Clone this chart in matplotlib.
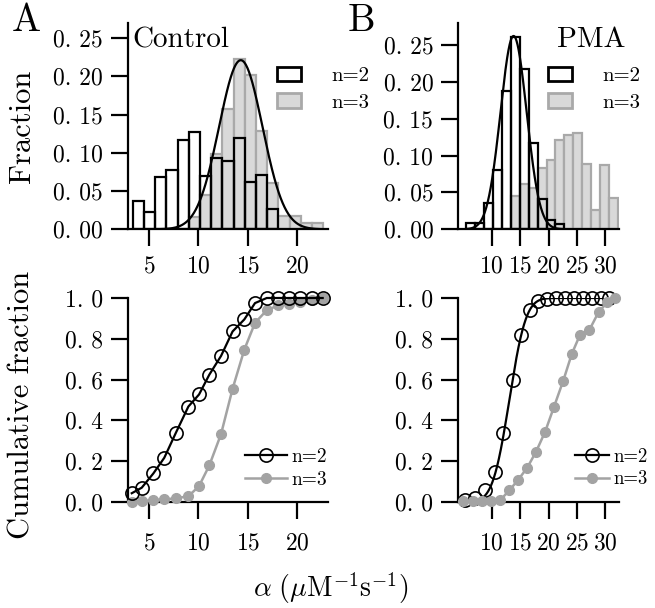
import math
import numpy as np
import matplotlib
matplotlib.use("Agg")
import matplotlib.pyplot as plt
from matplotlib.patches import Patch
from matplotlib.lines import Line2D

plt.rcParams['font.family'] = ['cmr10', 'DejaVu Serif']
plt.rcParams['mathtext.fontset'] = 'cm'
plt.rcParams['axes.formatter.use_mathtext'] = True

# ---------------- data ----------------
# Histograms (fraction per bin)
A_bin_start = 3.35
A_bin_width = 1.135
A_hist_n2 = [0.037, 0.022, 0.068, 0.077, 0.117, 0.127, 0.070, 0.093, 0.089,
             0.119, 0.062, 0.071, 0.027]
A_hist_n3 = [0, 0, 0, 0, 0, 0.016, 0.045, 0.099, 0.157, 0.223, 0.201, 0.129,
             0.060, 0.018, 0.018, 0.008, 0.008]
A_fit_mean, A_fit_sd, A_fit_amp = 14.3, 2.2, 0.221

B_bin_start = 5.48
B_bin_width = 1.574
B_hist_n2 = [0.008, 0.008, 0.036, 0.080, 0.187, 0.261, 0.217, 0.117, 0.041,
             0.012, 0.007]
B_hist_n3 = [0, 0, 0, 0, 0, 0.045, 0.062, 0.056, 0.083, 0.094, 0.121, 0.128,
             0.130, 0.088, 0.026, 0.087, 0.042]
B_fit_mean, B_fit_sd, B_fit_amp = 13.85, 2.3, 0.262

# Cumulative fractions
A_cdf_x = [3.25, 4.26, 5.44, 6.55, 7.71, 8.99, 10.07, 11.11, 12.3, 13.47,
           14.66, 15.74, 16.93, 18.1, 19.2, 20.3, 21.5, 22.6]
A_cdf_n2 = [0.043, 0.07, 0.14, 0.217, 0.338, 0.468, 0.527, 0.624, 0.716, 0.836,
            0.895, 0.975, 1.0, 1.0, 1.0, 1.0, 1.0, 1.0]
A_cdf_n3 = [0.0, 0.003, 0.01, 0.013, 0.018, 0.028, 0.078, 0.179, 0.333, 0.555,
            0.747, 0.878, 0.94, 0.964, 0.972, 0.978, 0.99, 1.0]

B_cdf_x_n2 = [5.3, 7.06, 8.82, 10.58, 12.04, 13.7, 15.16, 16.74, 18.2, 19.7,
              21.3, 22.9, 24.5, 26.0, 27.6, 29.2, 30.7]
B_cdf_n2 = [0.011, 0.021, 0.057, 0.148, 0.336, 0.598, 0.82, 0.94, 0.983, 0.995,
            1.0, 1.0, 1.0, 1.0, 1.0, 1.0, 1.0]
B_cdf_x_n3 = [5.0, 6.65, 8.24, 9.82, 11.46, 13.1, 14.7, 16.27, 17.8, 19.4,
              20.97, 22.6, 24.1, 25.55, 27.2, 28.8, 30.35, 31.7]
B_cdf_n3 = [0.003, 0.003, 0.003, 0.003, 0.008, 0.057, 0.11, 0.169, 0.246, 0.344,
            0.467, 0.595, 0.726, 0.82, 0.844, 0.93, 0.98, 1.0]
B_cdf_fit_mean, B_cdf_fit_sd = 13.1, 2.3

A_xticks = [5, 10, 15, 20]
B_xticks = [10, 15, 20, 25, 30]
hist_yticks = [0.0, 0.05, 0.10, 0.15, 0.20, 0.25]
hist_yticklabels = ["0. 00", "0. 05", "0. 10", "0. 15", "0. 20", "0. 25"]
cdf_yticks = [0.0, 0.2, 0.4, 0.6, 0.8, 1.0]
cdf_yticklabels = ["0. 0", "0. 2", "0. 4", "0. 6", "0. 8", "1. 0"]

# ---------------- style ----------------
GRAY_FILL = '#d9d9d9'
GRAY_EDGE = '#a9a9a9'
GRAY_PT = '#a3a3a3'
TICK_FS = 17
LEG_FS = 15
LEG2_FS = 14

W, H = 655, 608
fig = plt.figure(figsize=(W / 100, H / 100), dpi=100)


def px_axes(l, t, r, b):
    return fig.add_axes([l / W, 1 - b / H, (r - l) / W, (b - t) / H])


axA1 = px_axes(128, 22.7, 328, 229.3)
axB1 = px_axes(458.3, 22.7, 619.3, 229.3)
axA2 = px_axes(128, 298, 328, 502)
axB2 = px_axes(458.3, 298, 619.3, 502)


def style(ax, xpad=8):
    for s in ['top', 'right']:
        ax.spines[s].set_visible(False)
    for s in ['left', 'bottom']:
        ax.spines[s].set_linewidth(1.6)
    ax.tick_params(axis='both', direction='out', length=12, width=1.6,
                   labelsize=TICK_FS)
    ax.tick_params(axis='x', pad=xpad)
    ax.tick_params(axis='y', pad=6)


def hist(ax, start, width, n2, n3, mean, sd, amp, fit_lo, fit_hi):
    l3 = [start + i * width for i in range(len(n3)) if n3[i] > 0]
    h3 = [v for v in n3 if v > 0]
    ax.bar(l3, h3, width=width, align='edge', facecolor=GRAY_FILL,
           edgecolor=GRAY_EDGE, linewidth=1.6, zorder=2)
    l2 = [start + i * width for i in range(len(n2))]
    ax.bar(l2, n2, width=width, align='edge', facecolor='none',
           edgecolor='black', linewidth=1.6, zorder=3)
    xs = np.linspace(fit_lo, fit_hi, 400)
    ax.plot(xs, amp * np.exp(-(xs - mean) ** 2 / (2 * sd ** 2)), color='black',
            lw=1.6, zorder=4)


# --- top A
hist(axA1, A_bin_start, A_bin_width, A_hist_n2, A_hist_n3,
     A_fit_mean, A_fit_sd, A_fit_amp, A_bin_start, 23.1)
axA1.set_xlim(2.87, 23.14)
axA1.set_ylim(0, 0.27)
axA1.set_xticks(A_xticks)
axA1.set_yticks(hist_yticks)
axA1.set_yticklabels(hist_yticklabels)
style(axA1, 7)

# --- top B
hist(axB1, B_bin_start, B_bin_width, B_hist_n2, B_hist_n3,
     B_fit_mean, B_fit_sd, B_fit_amp, B_bin_start,
     B_bin_start + B_bin_width * len(B_hist_n2))
axB1.set_xlim(4.12, 32.46)
axB1.set_ylim(0, 0.28)
axB1.set_xticks(B_xticks)
axB1.set_yticks(hist_yticks)
axB1.set_yticklabels(hist_yticklabels)
style(axB1, 7)

hist_handles = [Patch(facecolor='white', edgecolor='black', lw=2),
                Patch(facecolor=GRAY_FILL, edgecolor=GRAY_EDGE, lw=2)]
for ax, xl in [(axA1, 277), (axB1, 548)]:
    ax.legend(hist_handles, ['n=2', 'n=3'], loc='upper left',
              bbox_to_anchor=(xl / W, 1 - 67 / H), bbox_transform=fig.transFigure,
              frameon=False, borderpad=0, borderaxespad=0, fontsize=LEG_FS,
              handlelength=1.15, handleheight=0.68, handletextpad=1.45,
              labelspacing=0.38)

# --- bottom A
axA2.plot(A_cdf_x, A_cdf_n3, color=GRAY_PT, lw=1.8, marker='o', ms=7,
          mfc=GRAY_PT, mec=GRAY_PT, clip_on=False, zorder=3)
axA2.plot(A_cdf_x, A_cdf_n2, color='black', lw=1.6, marker='o', ms=9.5,
          mfc='none', mec='black', mew=1.2, clip_on=False, zorder=4)
axA2.set_xlim(2.87, 23.14)
axA2.set_ylim(0, 1.0)
axA2.set_xticks(A_xticks)
axA2.set_yticks(cdf_yticks)
axA2.set_yticklabels(cdf_yticklabels)
style(axA2, 10)

# --- bottom B
xs = np.linspace(7.5, 31.7, 400)
cdf_fit = [0.5 * (1 + math.erf((v - B_cdf_fit_mean) / (B_cdf_fit_sd * math.sqrt(2))))
           for v in xs]
axB2.plot(xs, cdf_fit, color='black', lw=1.6, zorder=3)
axB2.plot(B_cdf_x_n2, B_cdf_n2, linestyle='none', marker='o', ms=9.5,
          mfc='none', mec='black', mew=1.2, clip_on=False, zorder=4)
axB2.plot(B_cdf_x_n3, B_cdf_n3, color=GRAY_PT, lw=1.8, marker='o', ms=7,
          mfc=GRAY_PT, mec=GRAY_PT, clip_on=False, zorder=5)
axB2.set_xlim(4.12, 32.46)
axB2.set_ylim(0, 1.0)
axB2.set_xticks(B_xticks)
axB2.set_yticks(cdf_yticks)
axB2.set_yticklabels(cdf_yticklabels)
style(axB2, 10)

cdf_handles = [Line2D([], [], color='black', lw=1.6, marker='o', ms=9.5,
                      mfc='none', mec='black', mew=1.2),
               Line2D([], [], color=GRAY_PT, lw=1.8, marker='o', ms=7,
                      mfc=GRAY_PT, mec=GRAY_PT)]
for ax, xl, hl, fs in [(axA2, 245, 2.15, LEG2_FS), (axB2, 575, 1.8, 13.5)]:
    ax.legend(cdf_handles, ['n=2', 'n=3'], loc='upper left',
              bbox_to_anchor=(xl / W, 1 - 448 / H), bbox_transform=fig.transFigure,
              frameon=False, borderpad=0, borderaxespad=0, fontsize=fs,
              handlelength=hl, handletextpad=0.25, labelspacing=0.24)

# --- texts
fig.text(26 / W, 1 - 21 / H, 'A', fontsize=28, ha='center', va='center')
fig.text(361 / W, 1 - 21 / H, 'B', fontsize=28, ha='center', va='center')
fig.text(132 / W, 1 - 47 / H, 'Control', fontsize=21, ha='left', va='baseline')
fig.text(557 / W, 1 - 47 / H, 'PMA', fontsize=21, ha='left', va='baseline')
fig.text(22 / W, 1 - 126 / H, 'Fraction', fontsize=22, rotation=90,
         ha='center', va='center')
fig.text(22 / W, 1 - 405 / H, 'Cumulative fraction', fontsize=22, rotation=90,
         ha='center', va='center')
fig.text(331 / W, 1 - 588 / H, r'$\alpha\ (\mathrm{\mu M}^{-1}\mathrm{s}^{-1})$',
         fontsize=20, ha='center', va='center')

fig.savefig('out.png', dpi=100)
